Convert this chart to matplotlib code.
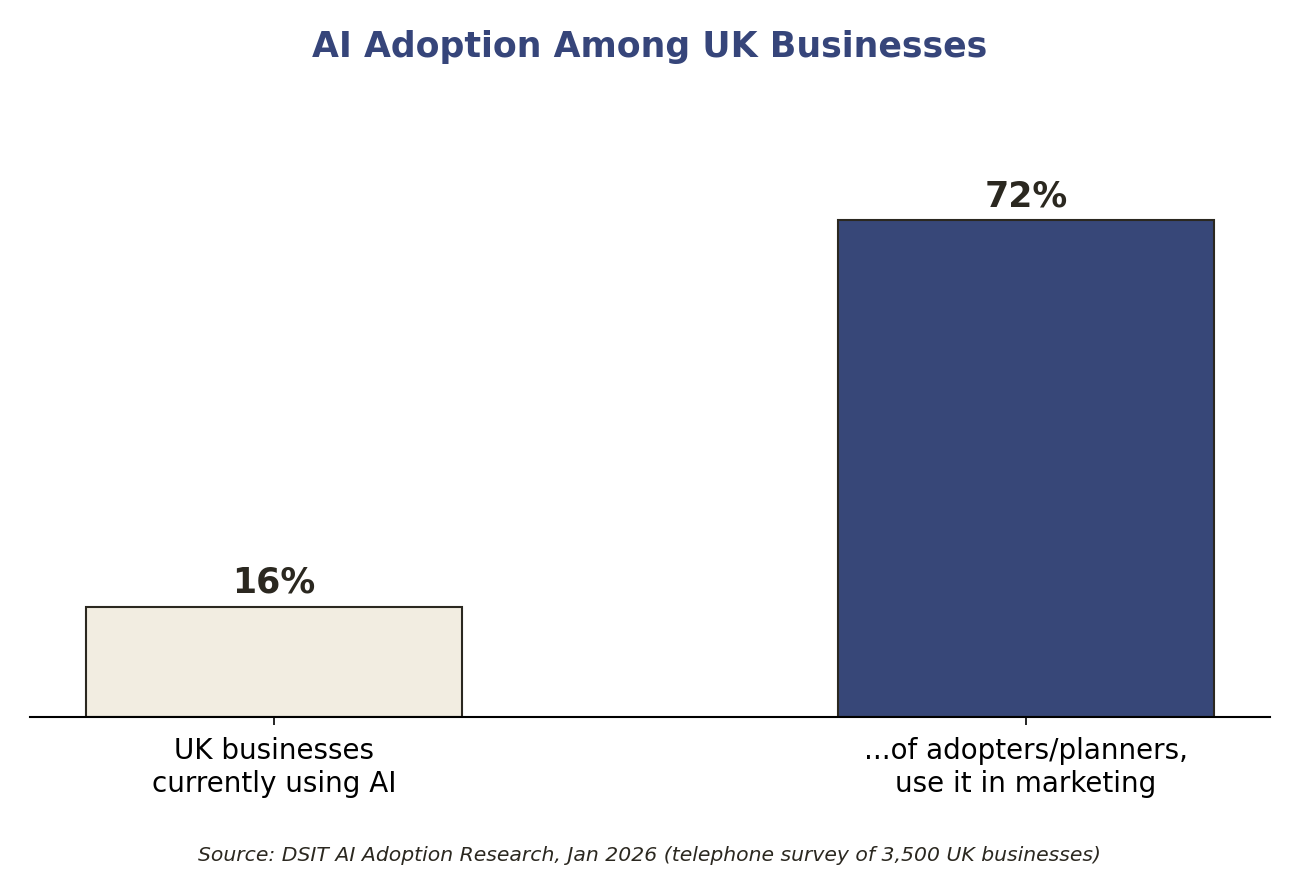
import matplotlib
matplotlib.use("Agg")
import matplotlib.pyplot as plt

categories = ["UK businesses\ncurrently using AI", "...of adopters/planners,\nuse it in marketing"]
values = [16, 72]
value_labels = ["16%", "72%"]
colors = ["#F2EDE1", "#374778"]
title = "AI Adoption Among UK Businesses"
source = "Source: DSIT AI Adoption Research, Jan 2026 (telephone survey of 3,500 UK businesses)"

fig = plt.figure(figsize=(13, 8.8), dpi=100)
ax = fig.add_axes([30/1300, 163/880, 1240/1300, 621/880])
x = list(range(len(categories)))
ax.bar(x, values, width=0.5, color=colors, edgecolor="#2B2820", linewidth=1.5, zorder=2)
for xi, v, lab in zip(x, values, value_labels):
    ax.annotate(lab, (xi, v), xytext=(0, 5), textcoords="offset points",
                ha="center", va="bottom", fontsize=25, fontweight="bold", color="#2B2820")
ax.set_ylim(0, 90)
ax.set_xticks(x)
ax.set_xticklabels(categories, fontsize=20)
ax.set_yticks([])
for s in ["top", "right", "left"]:
    ax.spines[s].set_visible(False)
ax.spines["bottom"].set_linewidth(1.5)
ax.tick_params(axis="x", length=6, width=1.2, pad=8.5)
fig.text(0.5, 1 - 47/880, title, ha="center", va="center", fontsize=25, fontweight="bold", color="#36457A")
fig.text(0.5, 1 - 855/880, source, ha="center", va="center", fontsize=14.7, style="italic", color="#2B2820")
fig.savefig("out.png", dpi=100)
